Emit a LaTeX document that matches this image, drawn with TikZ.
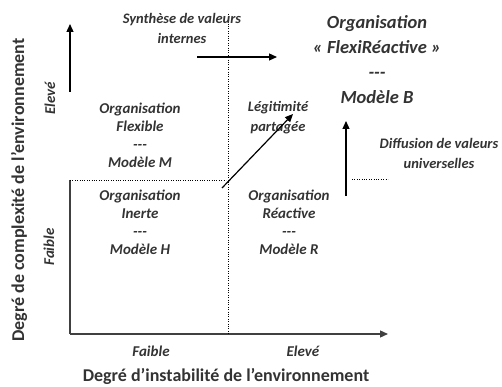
\documentclass[tikz,border=0pt]{standalone}
\usepackage{fontspec}
\setmainfont{Carlito}
\usetikzlibrary{arrows.meta}

\begin{document}
\begin{tikzpicture}[x=1pt, y=-1pt, >={Triangle[length=8pt,width=7pt]},
    quad/.style={font=\bfseries\itshape\fontsize{15}{18}\selectfont, text=black!80, align=center},
    big/.style={font=\bfseries\itshape\fontsize{18.5}{25}\selectfont, text=black!80, align=center},
    small/.style={font=\bfseries\itshape\fontsize{14.5}{20}\selectfont, text=black!80, align=center},
    level/.style={font=\bfseries\itshape\fontsize{15}{16}\selectfont, text=black!80},
    axtitle/.style={font=\bfseries\fontsize{18}{20}\selectfont, text=black!80}]
    \useasboundingbox (0,0) rectangle (502,387);

    % Coordinate system
    \coordinate (origin) at (70,334);
    \coordinate (ytop) at (70,180);
    \coordinate (xend) at (388,334);
    \draw[line width=1.3pt, black!75] (ytop) -- (origin);
    \draw[->, line width=1.3pt, black!75] (origin) -- (xend);

    % Upper arrow on the complexity axis
    \coordinate (ya) at (70,92);
    \coordinate (yb) at (70,24);
    \draw[->, line width=1.3pt] (ya) -- (yb);

    % Dotted split lines
    \coordinate (hl) at (70,180);
    \coordinate (hr) at (226,180);
    \coordinate (vt) at (228,14);
    \coordinate (vb) at (228,334);
    \draw[dotted, thin] (hl) -- (hr);
    \draw[dotted, thin] (vt) -- (vb);

    % Quadrants
    \node[quad] (flexible) at (140,135) {Organisation\\Flexible\\{-}{-}{-}\\Modèle M};
    \node[quad] (inerte) at (140,222) {Organisation\\Inerte\\{-}{-}{-}\\Modèle H};
    \node[quad] (reactive) at (289,222) {Organisation\\Réactive\\{-}{-}{-}\\Modèle R};

    % Target organisation
    \node[big] (flexireactive) at (377,60) {Organisation\\« FlexiRéactive »\\{-}{-}{-}\\Modèle B};

    % Paths towards model B
    \node[small] (synthese) at (182,28) {Synthèse de valeurs\\internes};
    \node[small] (legitimite) at (278,118) {Légitimité\\partagée};
    \node[small] (diffusion) at (439,153) {Diffusion de valeurs\\universelles};

    \coordinate (sa) at (197,57);
    \coordinate (sb) at (277,57);
    \draw[->, line width=1.2pt] (sa) -- (sb);

    \coordinate (la) at (222,188);
    \coordinate (lb) at (293,114);
    \draw[->, line width=1.2pt] (la) -- (lb);

    \coordinate (da) at (346,196);
    \coordinate (db) at (346,121);
    \draw[->, line width=1.2pt] (da) -- (db);

    \coordinate (dl) at (352,179);
    \coordinate (dr) at (388,179);
    \draw[dotted, thin] (dl) -- (dr);

    % Axis levels
    \node[level] (xlow) at (151,351) {Faible};
    \node[level] (xhigh) at (303,351) {Elevé};
    \node[level, rotate=90] (yhigh) at (50,98) {Elevé};
    \node[level, rotate=90] (ylow) at (49,247) {Faible};

    % Axis titles
    \node[axtitle] (xtitle) at (226,376) {Degré d’instabilité de l’environnement};
    \node[axtitle, rotate=90] (ytitle) at (19,190) {Degré de complexité de l’environnement};
\end{tikzpicture}
\end{document}
